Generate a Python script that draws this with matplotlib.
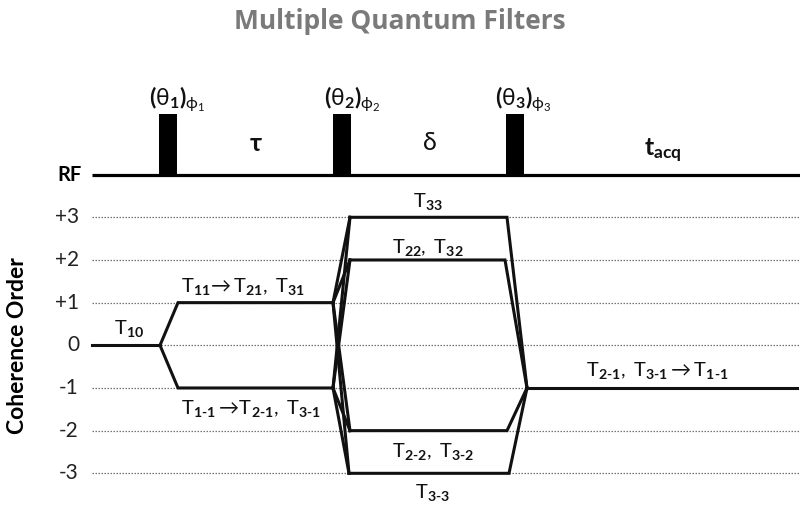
import numpy as np
import matplotlib
matplotlib.use("Agg")
import matplotlib.pyplot as plt

plt.rcParams['font.family'] = ['Lato', 'DejaVu Sans']
plt.rcParams['mathtext.fontset'] = 'custom'
plt.rcParams['mathtext.rm'] = 'Lato'
plt.rcParams['mathtext.bf'] = 'Lato:bold'
plt.rcParams['mathtext.it'] = 'Lato:italic'
plt.rcParams['mathtext.sf'] = 'Lato'
plt.rcParams['mathtext.fallback'] = 'stix'

HY = '\u2010'  # hyphen used inside subscripts

# coherence levels and tick labels
levels = [3, 2, 1, 0, -1, -2, -3]
level_labels = ['+3', '+2', '+1', '0', '-1', '-2', '-3']

# time axis (arbitrary units), pulse sequence
t_start, t_end = 92, 800
pulse_start = [159, 333, 506]
pulse_width = 18
pulse_height = 1.41
rf_level = 4.0
pulse_labels = [r'$\mathbf{(}\mathrm{\theta}_{\mathbf{1}}\mathbf{)}_{\mathrm{\phi_1}}$',
                r'$\mathbf{(}\mathrm{\theta}_{\mathbf{2}}\mathbf{)}_{\mathrm{\phi_2}}$',
                r'$\mathbf{(}\mathrm{\theta}_{\mathbf{3}}\mathbf{)}_{\mathrm{\phi_3}}$']
pulse_label_x = [177, 352, 523]

# delays
delay_labels = [r'$\mathbf{\tau}$', r'$\mathrm{\delta}$', r'$\mathbf{t}_{\mathbf{acq}}$']
delay_x = [256, 429, 663]
delay_y = [4.72, 4.75, 4.55]

# coherence pathways: (times, orders)
paths = [
    ([92, 160], [0, 0]),
    ([160, 178, 333], [0, 1, 1]),
    ([160, 178, 333], [0, -1, -1]),
    ([333, 350], [1, 3]), ([333, 350], [1, 2]),
    ([333, 350], [1, -2]), ([333, 349], [1, -3]),
    ([333, 350], [-1, 3]), ([333, 350], [-1, 2]),
    ([333, 350], [-1, -2]), ([333, 349], [-1, -3]),
    ([350, 507, 527], [3, 3, -1]),
    ([350, 505, 527], [2, 2, -1]),
    ([350, 507, 527], [-2, -2, -1]),
    ([349, 509, 527], [-3, -3, -1]),
    ([527, 797], [-1, -1]),
]

def T(sub):
    return r'\mathrm{T}_{\mathbf{' + sub.replace('-', HY) + '}}'

path_labels = [
    '$' + T('10') + '$',
    '$' + T('11') + r'\!\rightarrow' + T('21') + r'\mathrm{,\ }' + T('31') + '$',
    '$' + T('1-1') + r'\rightarrow\!' + T('2-1') + r'\mathrm{,\ }' + T('3-1') + '$',
    '$' + T('33') + '$',
    '$' + T('22') + r'\mathrm{,\ }' + T('32') + '$',
    '$' + T('2-2') + r'\mathrm{,\ }' + T('3-2') + '$',
    '$' + T('3-3') + '$',
    '$' + T('2-1') + r'\mathrm{,\ }' + T('3-1') + r'\rightarrow' + T('1-1') + '$',
]
path_label_x = [129, 243, 251, 428, 428, 433, 433, 657]
path_label_y = [0.40, 1.37, -1.49, 3.36, 2.30, -2.50, -3.46, -0.60]

fig = plt.figure(figsize=(8, 5.08), dpi=100)
ax = fig.add_axes([0, 0, 1, 1])
ax.set_xlim(0, 800)
ax.set_ylim(-3.813, 8.093)
ax.axis('off')

# dotted guides
for lv in levels:
    ax.plot([t_start, t_end], [lv, lv], linestyle=(0, (1.2, 1.2)), color='#707070', lw=0.9, zorder=1)

# RF line and pulses
ax.plot([t_start, t_end], [rf_level, rf_level], color='black', lw=2.3, solid_capstyle='butt', zorder=3)
ax.bar(pulse_start, pulse_height, width=pulse_width, bottom=rf_level, align='edge', color='black', zorder=3)
for lab, x in zip(pulse_labels, pulse_label_x):
    ax.text(x, 5.78, lab, ha='center', va='center', fontsize=16.5, color='#111111')
for lab, x, y in zip(delay_labels, delay_x, delay_y):
    ax.text(x, y, lab, ha='center', va='center', fontsize=18, color='#111111')
ax.text(82, rf_level, 'RF', ha='right', va='center', fontsize=14.5, fontweight='bold')

# pathways
for xs, ys in paths:
    ax.plot(xs, ys, color='#111111', lw=2.2, solid_joinstyle='miter', zorder=4)
for lab, x, y in zip(path_labels, path_label_x, path_label_y):
    ax.text(x, y, lab, ha='center', va='center', fontsize=14.5, color='#111111')

# level labels
for lv, lab in zip(levels, level_labels):
    ax.text(79, lv, lab, ha='right', va='center', fontsize=15, color='#222222')
ax.text(18, 0, 'Coherence Order', rotation=90, ha='center', va='center', fontsize=16.5, fontweight='bold')

ax.text(400, 7.58, 'Multiple Quantum Filters', ha='center', va='center',
        fontsize=19, fontweight='bold', color='#7a7a7a', family='Open Sans')

fig.savefig('out.png', dpi=100)
